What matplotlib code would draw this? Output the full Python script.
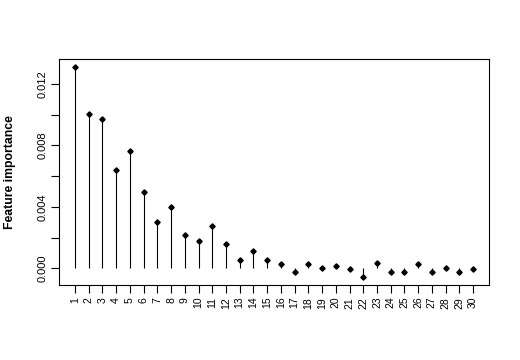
import numpy as np
import matplotlib
matplotlib.use("Agg")
import matplotlib.pyplot as plt

plt.rcParams['font.family'] = ['Liberation Sans', 'DejaVu Sans']

# feature index and importance values
features = list(range(1, 31))
importance = [0.01306, 0.01003, 0.00973, 0.00642, 0.00760, 0.00494, 0.00303,
              0.00397, 0.00219, 0.00178, 0.00279, 0.00157, 0.00056, 0.00112,
              0.00056, 0.00032, -0.00026, 0.00032, 0.00003, 0.00017, -0.00002,
              -0.00053, 0.00037, -0.00026, -0.00026, 0.00028, -0.00020,
              0.00000, -0.00020, -0.00002]

fig = plt.figure(figsize=(5.2, 3.6), dpi=100)
ax = fig.add_axes([0.1135, 0.2083, 0.8269, 0.6277])

ax.vlines(features, 0, importance, color='black', linewidth=0.8)
ax.plot(features, importance, 'D', color='black', markersize=2.7)

# R-style 4% padding
xr = features[-1] - features[0]
ax.set_xlim(features[0] - 0.04 * xr, features[-1] + 0.04 * xr)
ymin, ymax = min(importance), max(importance)
yr = ymax - ymin
ax.set_ylim(ymin - 0.04 * yr, ymax + 0.04 * yr)

ax.set_xticks(features)
ax.set_xticklabels([str(f) for f in features], rotation=90, fontsize=7.5)
yt = np.arange(0, 0.0121, 0.002)
ax.set_yticks(yt)
ax.set_yticklabels(['%.3f' % v if i % 2 == 0 else '' for i, v in enumerate(yt)],
                   rotation=90, va='center', fontsize=8)
ax.tick_params(direction='out', length=5.5, width=0.8, pad=3)
for s in ax.spines.values():
    s.set_linewidth(0.8)

ax.set_ylabel('Feature importance', fontsize=8.8, fontweight='bold', labelpad=15)

fig.savefig('out.png', dpi=100)
